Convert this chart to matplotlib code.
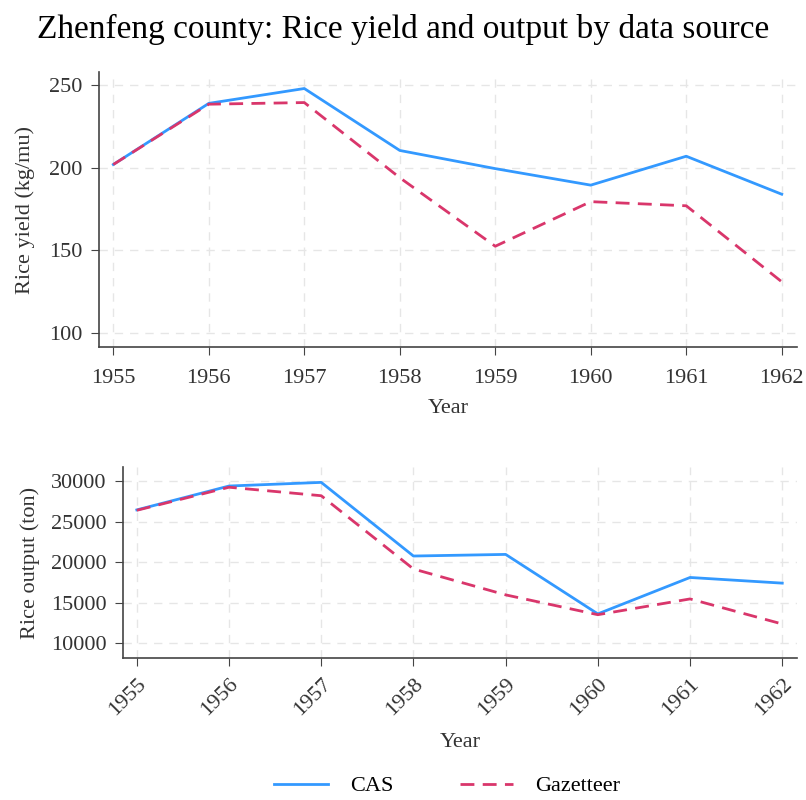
import matplotlib
matplotlib.use("Agg")
import matplotlib.pyplot as plt

years = [1955, 1956, 1957, 1958, 1959, 1960, 1961, 1962]
yield_cas = [202, 239, 248, 210.5, 199.5, 189.5, 207, 184]
yield_gaz = [202, 238.5, 239.5, 194, 152.5, 179.5, 177, 131]
output_cas = [26450, 29400, 29850, 20750, 20950, 13600, 18100, 17400]
output_gaz = [26400, 29250, 28200, 19150, 15950, 13500, 15450, 12350]

CAS_COLOR = "#3399ff"
GAZ_COLOR = "#d9366b"

plt.rcParams["font.family"] = ["Liberation Serif", "DejaVu Serif"]

fig = plt.figure(figsize=(8.06, 8.0), dpi=100)
ax1 = fig.add_axes([99 / 806, 1 - 347 / 800, 698 / 806, 275 / 800])
ax2 = fig.add_axes([123 / 806, 1 - 658 / 800, 674 / 806, 191 / 800])


def style(ax):
    for s in ["top", "right"]:
        ax.spines[s].set_visible(False)
    for s in ["left", "bottom"]:
        ax.spines[s].set_color("#444444")
        ax.spines[s].set_linewidth(1.2)
    ax.grid(True, color="#e6e6e6", linestyle=(0, (6, 5)), linewidth=1.0)
    ax.set_axisbelow(True)
    ax.tick_params(colors="#444444", labelcolor="#333333", labelsize=16, length=6, pad=6)
    ax.set_xticks(years)


ax1.plot(years, yield_cas, color=CAS_COLOR, lw=2, label="CAS")
ax1.plot(years, yield_gaz, color=GAZ_COLOR, lw=2, linestyle=(0, (5, 3)), label="Gazetteer")
style(ax1)
ax1.tick_params(axis="x", pad=10)
ax1.set_xlim(1954.85, 1962.16)
ax1.set_ylim(91.5, 258)
ax1.set_yticks([100, 150, 200, 250])
ax1.set_xlabel("Year", fontsize=16, color="#333333", labelpad=8)
ax1.set_ylabel("Rice yield (kg/mu)", fontsize=16, color="#333333", labelpad=10)

ax2.plot(years, output_cas, color=CAS_COLOR, lw=2, label="CAS")
ax2.plot(years, output_gaz, color=GAZ_COLOR, lw=2, linestyle=(0, (5, 3)), label="Gazetteer")
style(ax2)
ax2.set_xlim(1954.85, 1962.16)
ax2.set_ylim(8150, 31750)
ax2.set_yticks([10000, 15000, 20000, 25000, 30000])
ax2.set_xticklabels([str(y) for y in years], rotation=45, ha="right", rotation_mode="anchor")
ax2.set_xlabel("Year", fontsize=16, color="#333333", labelpad=10)
ax2.set_ylabel("Rice output (ton)", fontsize=16, color="#333333", labelpad=8)

fig.suptitle("Zhenfeng county: Rice yield and output by data source", fontsize=24, y=0.982)
handles, labels = ax1.get_legend_handles_labels()
fig.legend(handles, labels, loc="center", bbox_to_anchor=(0.555, 1 - 786 / 800), ncol=2,
           frameon=False, fontsize=16, handlelength=2.4, columnspacing=3.0, handletextpad=1.0)

fig.savefig("out.png", dpi=100)
